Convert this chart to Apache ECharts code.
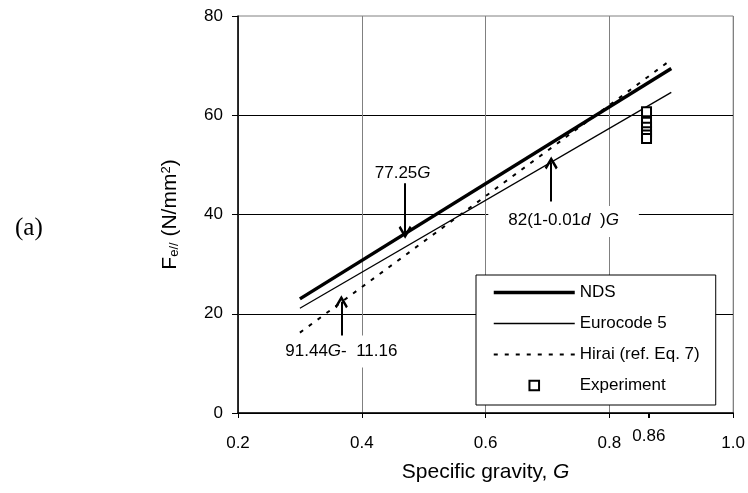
<!DOCTYPE html>
<html>
<head>
<meta charset="utf-8">
<script src="https://cdn.jsdelivr.net/npm/echarts@6/dist/echarts.min.js"></script>
<style>
  html, body { margin: 0; padding: 0; background: #fff; }
  #chart { width: 748px; height: 493px; }
</style>
</head>
<body>
<div id="chart"></div>
<script>
// ---- data ----
const gEnds = [0.3, 0.9]               // specific gravity range of the model lines
const ndsValues = [23.0, 69.4]         // 77.25G
const eurocodeValues = [21.1, 64.6]    // 82(1-0.01d)G
const hiraiValues = [16.2, 71.2]       // 91.44G - 11.16
const expG = [0.86, 0.86, 0.86, 0.86, 0.86, 0.86]
const expValues = [60.7, 58.6, 57.6, 56.7, 56.0, 55.3]
const seriesNames = ['NDS', 'Eurocode 5', 'Hirai (ref. Eq. 7)', 'Experiment']
const legendLineWidths = [3.5, 1.3, 2, 0]
const extraTicks = [0.86]

// annotation arrows (from, to) and labels, in data coordinates
const noteArrows = [
  [[0.47, 46.4], [0.47, 36.4]],
  [[0.706, 42.6], [0.706, 50.4]],
  [[0.367, 15.4], [0.367, 22.4]],
]
const noteLabels = [
  { coord: [0.466, 48.4], text: '77.25{i|G}', pad: [2, 4] },
  { coord: [0.726, 38.6], text: '82(1-0.01{i|d}  ){i|G}', pad: [6, 20, 8, 20] },
  { coord: [0.367, 12.4], text: '91.44{i|G}-  11.16', pad: [7, 6, 8, 6] },
]

const FONT = '"Liberation Sans", Arial, sans-serif'
const chevron = 'path://M0,0 L5,7.5 L3.6,8.8 L0,3.4 L-3.6,8.8 L-5,7.5 Z'

const chart = echarts.init(document.getElementById('chart'))

const pairs = (xs, ys) => ys.map((v, i) => [xs[i], v])

const option = {
  animation: false,
  backgroundColor: '#fff',
  textStyle: { fontFamily: FONT, color: '#000' },
  grid: [
    { left: 238, right: 12, top: 16, bottom: 80, show: true, borderColor: '#808080', borderWidth: 1 },
    { left: 238, right: 12, top: 16, bottom: 80 },
  ],
  legend: {
    orient: 'vertical',
    left: 476,
    top: 275,
    padding: [9, 16, 11, 16],
    itemWidth: 81,
    itemHeight: 12,
    itemGap: 14,
    itemTextGap: 3,
    backgroundColor: '#fff',
    borderColor: '#000',
    borderWidth: 1,
    borderRadius: 0,
    textStyle: { fontFamily: FONT, fontSize: 17, color: '#000' },
    data: seriesNames.map((name, i) => ({
      name,
      itemStyle: i < 3 ? { opacity: 0 } : undefined,
      lineStyle: { width: legendLineWidths[i] },
    })),
  },
  graphic: [
    {
      type: 'text',
      left: 15,
      top: 216,
      style: { text: '(a)', font: '25px "Liberation Serif", "Times New Roman", serif', fill: '#000' },
    },
  ],
  xAxis: [
    {
      type: 'value',
      gridIndex: 0,
      min: 0.2,
      max: 1.0,
      interval: 0.2,
      name: 'Specific gravity, {i|G}',
      nameLocation: 'middle',
      nameGap: 49,
      nameTextStyle: {
        fontFamily: FONT, fontSize: 21, color: '#000',
        rich: { i: { fontFamily: FONT, fontSize: 21, fontStyle: 'italic', color: '#000' } },
      },
      axisLine: { lineStyle: { color: '#000', width: 1.5 } },
      axisTick: { show: true, length: 5, lineStyle: { color: '#000' } },
      axisLabel: { margin: 22, fontSize: 17, color: '#000', formatter: v => v.toFixed(1) },
      splitLine: { show: true, lineStyle: { color: '#808080', width: 1 } },
    },
    {
      type: 'value',
      gridIndex: 1,
      min: 0.2,
      max: 1.0,
      axisLine: { show: false },
      axisTick: { show: true, length: 5, customValues: extraTicks, lineStyle: { color: '#000', width: 2 } },
      axisLabel: { show: true, customValues: extraTicks, margin: 15, fontSize: 17, color: '#000' },
      splitLine: { show: false },
    },
  ],
  yAxis: [
    {
      type: 'value',
      gridIndex: 0,
      min: 0,
      max: 80,
      interval: 20,
      name: 'F{sub|e//} (N/mm{sup|2})',
      nameLocation: 'middle',
      nameRotate: 90,
      nameGap: 57,
      nameTextStyle: {
        fontFamily: FONT, fontSize: 21, color: '#000',
        rich: {
          sub: { fontFamily: FONT, fontSize: 13, verticalAlign: 'bottom', color: '#000' },
          sup: { fontFamily: FONT, fontSize: 13, verticalAlign: 'top', color: '#000' },
        },
      },
      axisLine: { show: true, lineStyle: { color: '#000', width: 1.5 } },
      axisTick: { show: true, length: 6, lineStyle: { color: '#000' } },
      axisLabel: { margin: 15, fontSize: 17, color: '#000' },
      splitLine: { show: true, showMaxLine: false, lineStyle: { color: '#000', width: 1 } },
    },
    { type: 'value', gridIndex: 1, min: 0, max: 80, show: false },
  ],
  series: [
    {
      name: 'NDS',
      type: 'line',
      data: pairs(gEnds, ndsValues),
      symbol: 'none',
      lineStyle: { color: '#000', width: 3.5 },
      itemStyle: { color: '#000' },
      z: 4,
      markLine: {
        silent: true,
        symbol: ['none', chevron],
        symbolSize: 13,
        lineStyle: { color: '#000', width: 2, type: 'solid' },
        label: { show: false },
        data: noteArrows.map(([a, b]) => [{ coord: a }, { coord: b }]),
      },
      markPoint: {
        silent: true,
        symbol: 'rect',
        symbolSize: 1,
        itemStyle: { color: 'rgba(0,0,0,0)' },
        data: noteLabels.map(n => ({
          coord: n.coord,
          label: {
            show: true,
            position: 'inside',
            formatter: n.text,
            fontFamily: FONT,
            fontSize: 17,
            color: '#000',
            backgroundColor: '#fff',
            padding: n.pad,
            rich: { i: { fontFamily: FONT, fontSize: 17, fontStyle: 'italic', color: '#000' } },
          },
        })),
      },
    },
    {
      name: 'Eurocode 5',
      type: 'line',
      data: pairs(gEnds, eurocodeValues),
      symbol: 'none',
      lineStyle: { color: '#000', width: 1.3 },
      itemStyle: { color: '#000' },
      z: 3,
    },
    {
      name: 'Hirai (ref. Eq. 7)',
      type: 'line',
      data: pairs(gEnds, hiraiValues),
      symbol: 'none',
      lineStyle: { color: '#000', width: 2, type: [4, 7] },
      itemStyle: { color: '#000' },
      z: 3,
    },
    {
      name: 'Experiment',
      type: 'line',
      data: pairs(expG, expValues),
      symbol: 'emptyRect',
      symbolSize: 9,
      showAllSymbol: true,
      lineStyle: { width: 0, opacity: 0 },
      itemStyle: { color: '#000', borderWidth: 1.5 },
      z: 5,
    },
  ],
}

chart.setOption(option)
</script>
</body>
</html>
